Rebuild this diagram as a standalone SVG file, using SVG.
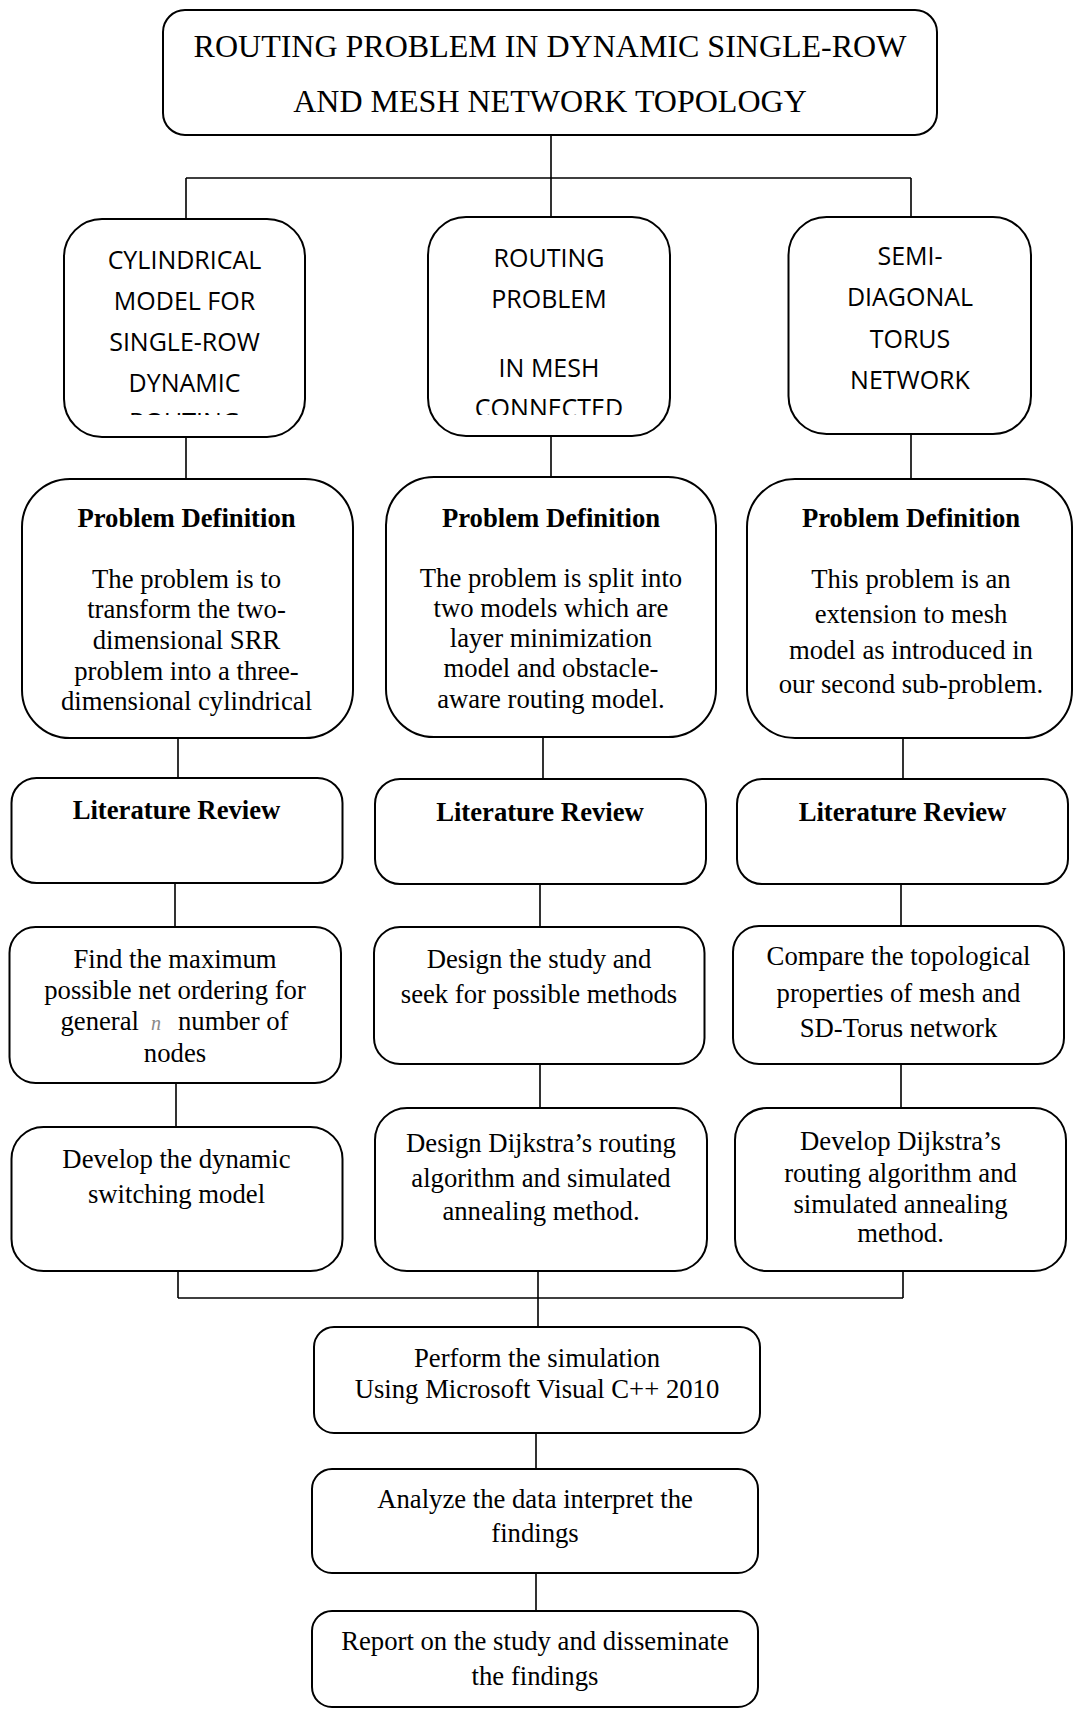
<svg xmlns="http://www.w3.org/2000/svg" width="1074" height="1710" viewBox="0 0 1074 1710">
<style>
.box{fill:#fff;stroke:#000;stroke-width:2}
.ln{fill:none;stroke:#000;stroke-width:1.6}
.t{font-family:"Liberation Serif","Times New Roman",serif;font-size:26.7px;fill:#000;text-anchor:middle}
.b{font-weight:bold}
.top{font-size:32px}
.s{font-family:"Open Sans","Noto Sans",sans-serif;font-size:25px;fill:#000;text-anchor:middle}
</style>
<defs>
<clipPath id="clip1"><rect x="60" y="200" width="250" height="215"/></clipPath>
<clipPath id="clip2"><rect x="425" y="200" width="250" height="215"/></clipPath>
</defs>
<g id="connectors">
<path class="ln" d="M551 135V178M186 178H911M186 178V219M551 178V217M911 178V217"/>
<path class="ln" d="M186 437V479M551 436V477M911 434V479"/>
<path class="ln" d="M178 738V778M543 737V779M903 738V779"/>
<path class="ln" d="M175 883V927M540 884V927M901 884V926"/>
<path class="ln" d="M176 1083V1127M540 1064V1108M901 1064V1108"/>
<path class="ln" d="M178 1271V1298M903 1271V1298M178 1298H903M538 1271V1327"/>
<path class="ln" d="M536 1433V1469M536 1573V1611"/>
</g>
<g id="n-top">
<rect class="box" x="163" y="10" width="774" height="125" rx="22"/>
<text class="t top" x="550" y="57">ROUTING PROBLEM IN DYNAMIC SINGLE-ROW</text>
<text class="t top" x="550" y="112">AND MESH NETWORK TOPOLOGY</text>
</g>
<g id="n-cyl">
<rect class="box" x="64" y="219" width="241" height="218" rx="38"/>
<g clip-path="url(#clip1)">
<text class="s" x="184.5" y="269">CYLINDRICAL</text>
<text class="s" x="184.5" y="310">MODEL FOR</text>
<text class="s" x="184.5" y="351">SINGLE-ROW</text>
<text class="s" x="184.5" y="392">DYNAMIC</text>
<text class="s" x="184.5" y="431">ROUTING</text>
</g>
</g>
<g id="n-mesh">
<rect class="box" x="428" y="217" width="242" height="219" rx="38"/>
<g clip-path="url(#clip2)">
<text class="s" x="549" y="267">ROUTING</text>
<text class="s" x="549" y="308">PROBLEM</text>
<text class="s" x="549" y="377">IN MESH</text>
<text class="s" x="549" y="417">CONNECTED</text>
</g>
</g>
<g id="n-sdt">
<rect class="box" x="788.5" y="217" width="242.5" height="217" rx="38"/>
<text class="s" x="910" y="265">SEMI-</text>
<text class="s" x="910" y="306">DIAGONAL</text>
<text class="s" x="910" y="348">TORUS</text>
<text class="s" x="910" y="389">NETWORK</text>
</g>
<g id="n-pd1">
<rect class="box" x="22" y="479" width="331" height="259" rx="48"/>
<text class="t b" x="186.5" y="527">Problem Definition</text>
<text class="t" x="186.5" y="588">The problem is to</text>
<text class="t" x="186.5" y="618">transform the two-</text>
<text class="t" x="186.5" y="649">dimensional SRR</text>
<text class="t" x="186.5" y="680">problem into a three-</text>
<text class="t" x="186.5" y="710">dimensional cylindrical</text>
</g>
<g id="n-pd2">
<rect class="box" x="386" y="477" width="330" height="260" rx="48"/>
<text class="t b" x="551" y="527">Problem Definition</text>
<text class="t" x="551" y="587">The problem is split into</text>
<text class="t" x="551" y="617">two models which are</text>
<text class="t" x="551" y="647">layer minimization</text>
<text class="t" x="551" y="677">model and obstacle-</text>
<text class="t" x="551" y="708">aware routing model.</text>
</g>
<g id="n-pd3">
<rect class="box" x="747" y="479" width="325" height="259" rx="48"/>
<text class="t b" x="911" y="527">Problem Definition</text>
<text class="t" x="911" y="588">This problem is an</text>
<text class="t" x="911" y="623">extension to mesh</text>
<text class="t" x="911" y="659">model as introduced in</text>
<text class="t" x="911" y="693">our second sub-problem.</text>
</g>
<g id="n-lr1">
<rect class="box" x="11.5" y="778" width="331" height="105" rx="25"/>
<text class="t b" x="176.5" y="819">Literature Review</text>
</g>
<g id="n-lr2">
<rect class="box" x="375" y="779" width="331" height="105" rx="25"/>
<text class="t b" x="540" y="821">Literature Review</text>
</g>
<g id="n-lr3">
<rect class="box" x="737" y="779" width="331" height="105" rx="25"/>
<text class="t b" x="902.5" y="821">Literature Review</text>
</g>
<g id="n-find">
<rect class="box" x="9.5" y="927" width="331.5" height="156" rx="26"/>
<text class="t" x="175" y="968">Find the maximum</text>
<text class="t" x="175" y="999">possible net ordering for</text>
<text class="t" x="139" y="1030" style="text-anchor:end">general</text>
<text x="156" y="1030" style="font-family:'Liberation Serif',serif;font-style:italic;font-size:20px;fill:#888;text-anchor:middle">n</text>
<text class="t" x="178" y="1030" style="text-anchor:start">number of</text>
<text class="t" x="175" y="1062">nodes</text>
</g>
<g id="n-design">
<rect class="box" x="374" y="927" width="330.5" height="137" rx="26"/>
<text class="t" x="539" y="968">Design the study and</text>
<text class="t" x="539" y="1003">seek for possible methods</text>
</g>
<g id="n-compare">
<rect class="box" x="733" y="926" width="331" height="138" rx="26"/>
<text class="t" x="898.5" y="965">Compare the topological</text>
<text class="t" x="898.5" y="1002">properties of mesh and</text>
<text class="t" x="898.5" y="1037">SD-Torus network</text>
</g>
<g id="n-dev">
<rect class="box" x="11.5" y="1127" width="331" height="144" rx="32"/>
<text class="t" x="176.5" y="1168">Develop the dynamic</text>
<text class="t" x="176.5" y="1203">switching model</text>
</g>
<g id="n-dijk1">
<rect class="box" x="375" y="1108" width="332" height="163" rx="32"/>
<text class="t" x="541" y="1152">Design Dijkstra’s routing</text>
<text class="t" x="541" y="1187">algorithm and simulated</text>
<text class="t" x="541" y="1220">annealing method.</text>
</g>
<g id="n-dijk2">
<rect class="box" x="735" y="1108" width="331" height="163" rx="32"/>
<text class="t" x="900.5" y="1150">Develop Dijkstra’s</text>
<text class="t" x="900.5" y="1182">routing algorithm and</text>
<text class="t" x="900.5" y="1213">simulated annealing</text>
<text class="t" x="900.5" y="1242">method.</text>
</g>
<g id="n-sim">
<rect class="box" x="314" y="1327" width="446" height="106" rx="20"/>
<text class="t" x="537" y="1367">Perform the simulation</text>
<text class="t" x="537" y="1398">Using Microsoft Visual C++ 2010</text>
</g>
<g id="n-analyze">
<rect class="box" x="312" y="1469" width="446" height="104" rx="20"/>
<text class="t" x="535" y="1508">Analyze the data interpret the</text>
<text class="t" x="535" y="1542">findings</text>
</g>
<g id="n-report">
<rect class="box" x="312" y="1611" width="446" height="96" rx="20"/>
<text class="t" x="535" y="1650">Report on the study and disseminate</text>
<text class="t" x="535" y="1685">the findings</text>
</g>
</svg>
